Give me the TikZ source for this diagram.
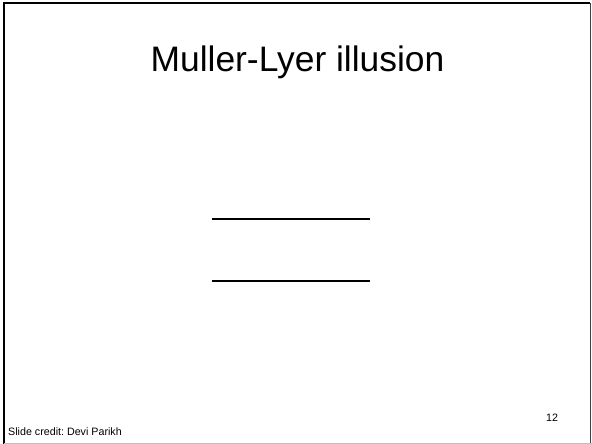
\documentclass[tikz,border=0pt]{standalone}
\usepackage{fontspec}
\setmainfont{Liberation Sans}
\usetikzlibrary{positioning}
\frenchspacing

\begin{document}
\begin{tikzpicture}[
  x=1pt, y=-1pt,
  every node/.style={inner sep=0pt, text=black},
  slidetitle/.style={font=\fontsize{35.4}{42}\selectfont, anchor=base},
  footer/.style={font=\fontsize{10.7}{13}\selectfont, anchor=base west},
  illusionline/.style={line width=2pt, draw=black}
]
\useasboundingbox (0,0) rectangle (592,444);

% Slide frame
\draw[line width=2pt] (4,444) -- (4,3) -- (590,3);
\draw[black!75, line width=1pt] (590.5,3) -- (590.5,444);
\draw[black!25, line width=1pt] (4,443.5) -- (592,443.5);

% Title
\node[slidetitle] (title) at (297.5,72) {Muller-Lyer illusion};

% The two lines
\draw[illusionline] (212,218.5) -- (370,218.5);
\draw[illusionline] (212,281) -- (370,281);

% Footer
\node[footer] (pagenum) at (546,421) {12};
\node[footer] (credit) at (8,435) {Slide credit: Devi Parikh};
\end{tikzpicture}
\end{document}
